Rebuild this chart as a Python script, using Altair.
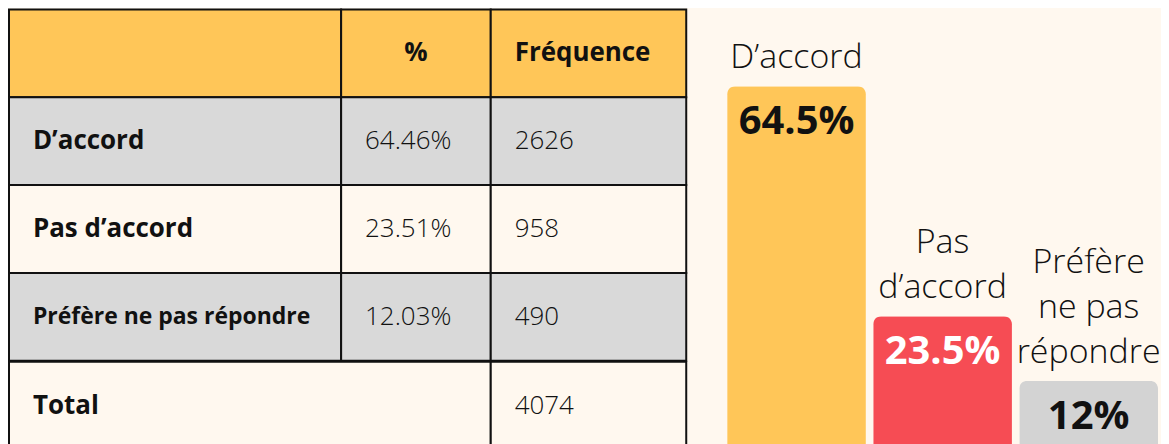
import altair as alt
import pandas as pd

# ---- data ----
categories = ["D’accord", "Pas d’accord", "Préfère ne pas répondre"]
percentages = [64.46, 23.51, 12.03]
frequencies = [2626, 958, 490]
total_label = "Total"
total_frequency = 4074
header_pct = "%"
header_freq = "Fréquence"
bar_labels = ["D’accord", "Pas\nd’accord", "Préfère\nne pas\nrépondre"]
bar_value_labels = ["64.5%", "23.5%", "12%"]

# ---- style ----
FONT = "Open Sans"
BG = "#FFF8EF"
YELLOW = "#FFC658"
GRAY = "#D9D9D9"
RED = "#F64C54"
BARGRAY = "#D3D3D3"
INK = "#111111"
ROW_H = 88
W1, W2, W3 = 333, 150, 196
LINE_H = 45

row_keys = ["r0", "r1", "r2", "r3"]
row_kinds = ["header", "shaded", "plain", "shaded"]
kind_domain = ["header", "shaded", "plain", "total"]
kind_range = [YELLOW, GRAY, BG, BG]


def cell_panel(rows, kinds, texts, width, align, xpos, body_weight):
    df = pd.DataFrame({"row": rows, "kind": kinds, "text": texts})
    base = alt.Chart(df).encode(
        y=alt.Y("row:N", sort=rows, axis=None,
                scale=alt.Scale(paddingInner=0, paddingOuter=0))
    )
    rect = base.mark_rect(stroke=INK, strokeWidth=2).encode(
        color=alt.Color("kind:N", legend=None,
                        scale=alt.Scale(domain=kind_domain, range=kind_range))
    )
    head = base.transform_filter(alt.datum.kind == "header").mark_text(
        font=FONT, fontSize=26, fontWeight="bold", align=align,
        baseline="middle", color=INK
    ).encode(x=alt.value(xpos), text="text:N")
    body = base.transform_filter(alt.datum.kind != "header").mark_text(
        font=FONT, fontWeight=body_weight, align="left",
        baseline="middle", color=INK
    ).encode(
        x=alt.value(24), text="text:N",
        size=alt.condition("length(datum.text) > 20", alt.value(23), alt.value(26)),
    )
    return alt.layer(rect, head, body).properties(width=width, height=ROW_H * len(rows))


col1 = cell_panel(row_keys, row_kinds, [""] + categories, W1, "left", 24, "bold")
col2 = cell_panel(row_keys, row_kinds, [header_pct] + [f"{p:.2f}%" for p in percentages],
                  W2, "center", W2 / 2, 300)
col3 = cell_panel(row_keys, row_kinds, [header_freq] + [str(f) for f in frequencies],
                  W3, "left", 24, 300)
tot12 = cell_panel(["r4"], ["total"], [total_label], W1 + W2, "left", 24, "bold")
tot3 = cell_panel(["r4"], ["total"], [str(total_frequency)], W3, "left", 24, 300)

table = alt.vconcat(
    alt.hconcat(col1, col2, col3, spacing=0, bounds="flush"),
    alt.hconcat(tot12, tot3, spacing=0, bounds="flush"),
    spacing=-2,
)

# ---- bars ----
bdf = pd.DataFrame({
    "category": categories,
    "pct": percentages,
    "label": bar_labels,
    "value_label": bar_value_labels,
})
xenc = alt.X("category:N", sort=categories, axis=None,
             scale=alt.Scale(paddingInner=0.05, paddingOuter=0))
yenc = alt.Y("pct:Q", axis=None, scale=alt.Scale(domain=[0, 78.1], nice=False, zero=True))

bars = alt.Chart(bdf).mark_bar(cornerRadiusTopLeft=8, cornerRadiusTopRight=8).encode(
    x=xenc, y=yenc,
    color=alt.Color("category:N", legend=None,
                    scale=alt.Scale(domain=categories, range=[YELLOW, RED, BARGRAY])),
)

# category labels above the bars; multi-line labels are lifted by their extra lines
label_layers = []
for n in sorted({lbl.count("\n") + 1 for lbl in bar_labels}):
    label_layers.append(
        alt.Chart(bdf)
        .transform_calculate(nlines="length(split(datum.label, '\\n'))")
        .transform_filter(alt.datum.nlines == n)
        .mark_text(font=FONT, fontSize=34, fontWeight=300, baseline="bottom",
                   dy=-11 - (n - 1) * LINE_H, lineBreak="\n", lineHeight=LINE_H, color=INK)
        .encode(x=xenc, y=yenc, text="label:N")
    )

val_text = alt.Chart(bdf).mark_text(
    font=FONT, fontSize=40, fontWeight="bold", baseline="top", dy=16
).encode(
    x=xenc, y=yenc, text="value_label:N",
    color=alt.Color("category:N", legend=None,
                    scale=alt.Scale(domain=categories, range=[INK, "#FFFFFF", INK])),
)
bar_panel = alt.layer(bars, *label_layers, val_text).resolve_scale(color="independent").properties(
    width=432, height=ROW_H * 5
)

chart = alt.hconcat(table, bar_panel, spacing=40).properties(
    padding=0, background=BG
).configure_view(strokeWidth=0)

chart.save("out.html", embed_options={"renderer": "svg", "actions": False})
